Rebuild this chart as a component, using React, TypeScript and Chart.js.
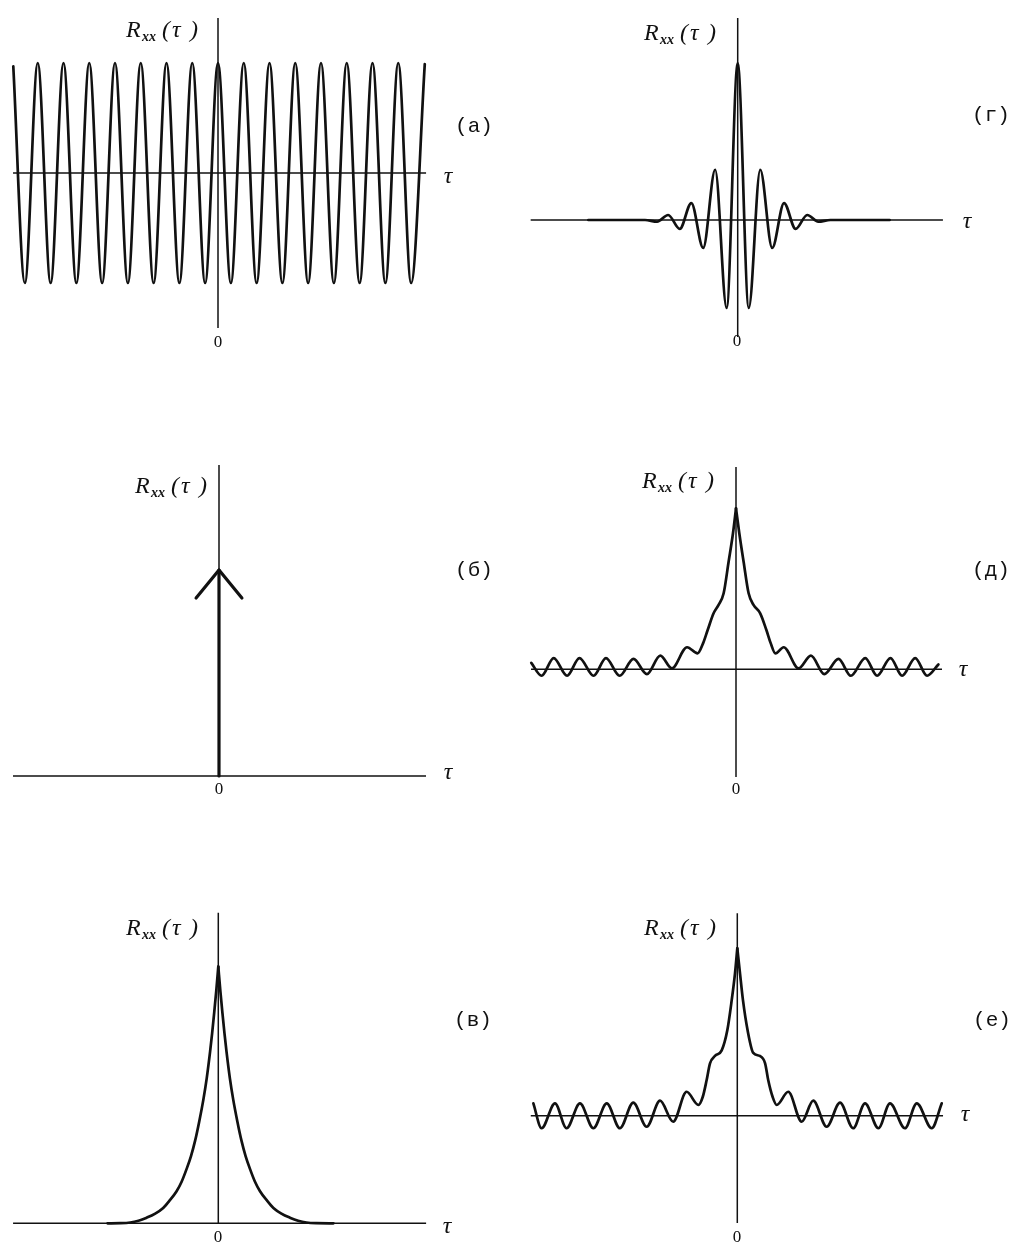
import React, { useEffect, useRef } from "react";
import { Chart, registerables } from "chart.js";

Chart.register(...registerables);

// ---------------- DATA (τ in common units, R normalised to its peak) ----------------
// (а) periodic: cosine extrema
const aTau = [-7.95, -7.5, -7, -6.5, -6, -5.5, -5, -4.5, -4, -3.5, -3, -2.5, -2, -1.5, -1, -0.5, 0, 0.5, 1, 1.5, 2, 2.5, 3, 3.5, 4, 4.5, 5, 5.5, 6, 6.5, 7, 7.5, 8.03];
const aR = [0.97, -1, 1, -1, 1, -1, 1, -1, 1, -1, 1, -1, 1, -1, 1, -1, 1, -1, 1, -1, 1, -1, 1, -1, 1, -1, 1, -1, 1, -1, 1, -1, 0.99];

// (б) white noise: delta impulse (stem + arrow head)
const bStemTau = [0, 0];
const bStemR = [0, 1];
const bHeadTau = [-0.89, 0, 0.89];
const bHeadR = [0.864, 1, 0.864];

// (в) exponential decay
const vTau = [-4.3, -3.8, -3.42, -3.1, -2.78, -2.45, -2.14, -1.88, -1.62, -1.42, -1.23, -1.06, -0.9, -0.74, -0.58, -0.45, -0.32, -0.24, -0.16, -0.08, 0, 0.08, 0.16, 0.24, 0.32, 0.45, 0.58, 0.74, 0.9, 1.06, 1.23, 1.42, 1.62, 1.88, 2.14, 2.45, 2.78, 3.1, 3.42, 3.8, 4.47];
const vR = [0, 0.0005, 0.003, 0.01, 0.022, 0.038, 0.06, 0.09, 0.125, 0.163, 0.212, 0.262, 0.322, 0.397, 0.482, 0.565, 0.668, 0.74, 0.82, 0.905, 1, 0.905, 0.82, 0.74, 0.668, 0.565, 0.482, 0.397, 0.322, 0.262, 0.212, 0.163, 0.125, 0.09, 0.06, 0.038, 0.022, 0.01, 0.003, 0.0005, 0];

// (г) damped oscillation
const gTau = [-5.8, -4.5, -3.6, -3.13, -2.7, -2.25, -1.8, -1.34, -0.875, -0.43, 0, 0.43, 0.875, 1.34, 1.8, 2.25, 2.7, 3.13, 3.6, 4.5, 5.9];
const gR = [0, 0, 0, -0.011, 0.032, -0.057, 0.108, -0.178, 0.32, -0.56, 1, -0.56, 0.32, -0.178, 0.108, -0.057, 0.032, -0.011, 0, 0, 0];

// (д) noise + weak periodic component
const dTau = [-7.95, -7.55, -7.08, -6.56, -6.08, -5.53, -5.05, -4.52, -3.98, -3.46, -2.94, -2.49, -1.9, -1.49, -1.28, -1.1, -0.87, -0.676, -0.48, -0.287, -0.117, 0, 0.128, 0.295, 0.49, 0.68, 0.94, 1.18, 1.35, 1.53, 1.85, 2.43, 2.91, 3.43, 3.98, 4.46, 5.02, 5.48, 6.0, 6.45, 6.96, 7.42, 7.86];
const dR = [0.04, -0.04, 0.07, -0.04, 0.07, -0.04, 0.07, -0.04, 0.065, -0.03, 0.085, 0.006, 0.137, 0.099, 0.161, 0.244, 0.348, 0.4, 0.472, 0.668, 0.845, 1, 0.845, 0.668, 0.472, 0.4, 0.348, 0.244, 0.161, 0.099, 0.137, 0.006, 0.085, -0.03, 0.065, -0.04, 0.07, -0.04, 0.07, -0.04, 0.07, -0.04, 0.03];

// (е) noise + stronger periodic component
const eTau = [-7.92, -7.6, -7.08, -6.63, -6.11, -5.59, -5.07, -4.56, -4.04, -3.52, -3.0, -2.49, -1.97, -1.51, -1.34, -1.19, -1.06, -0.866, -0.606, -0.388, -0.217, -0.089, 0, 0.105, 0.22, 0.4, 0.62, 0.88, 1.08, 1.2, 1.37, 1.53, 1.98, 2.5, 2.95, 3.47, 3.99, 4.5, 4.96, 5.48, 5.93, 6.51, 6.97, 7.55, 7.94];
const eR = [0.074, -0.075, 0.074, -0.075, 0.074, -0.075, 0.074, -0.075, 0.078, -0.066, 0.09, -0.036, 0.143, 0.064, 0.113, 0.213, 0.313, 0.357, 0.39, 0.51, 0.69, 0.85, 1, 0.85, 0.69, 0.51, 0.375, 0.357, 0.313, 0.213, 0.113, 0.064, 0.143, -0.036, 0.09, -0.066, 0.078, -0.075, 0.074, -0.075, 0.074, -0.075, 0.074, -0.075, 0.074];

// axis extents (data units)
const aXAxis = [-7.96, 8.08];
const aYAxis = [-1.41, 1.41];
const bXAxis = [-8.0, 8.04];
const bYAxis = [0, 1.51];
const vXAxis = [-7.97, 8.07];
const vYAxis = [0, 1.21];
const gXAxis = [-8.04, 7.97];
const gYAxis = [-0.745, 1.287];
const dXAxis = [-7.96, 8.0];
const dYAxis = [-0.669, 1.257];
const eXAxis = [-8.02, 7.99];
const eYAxis = [-0.641, 1.21];

const panelLetters = ["(а)", "(б)", "(в)", "(г)", "(д)", "(е)"];
const zeroLabel = "0";
const tauLabel = "τ";

// ---------------- LAYOUT ----------------
const SX = 25.75; // px per τ unit
const INK = "#111";
const SERIF = '"Liberation Serif", "DejaVu Serif", serif';
const MONO = '"Liberation Mono", "DejaVu Sans Mono", monospace';
const CURVE_W = 2.7;
const AXIS_W = 1.5;

type Curve = { tau: number[]; r: number[]; width: number; smooth: boolean; cusp?: boolean };
type Cfg = {
  box: { l: number; t: number; w: number; h: number };
  ox: number;
  oy: number;
  sy: number;
  xAxis: number[];
  yAxis: number[];
  curves: Curve[];
  letter: string;
  zero: [number, number];
  rRight: number;
  rCy: number;
  tau: [number, number];
  letterPos: [number, number];
};

const panels: Cfg[] = [
  {
    box: { l: 0, t: 0, w: 510, h: 400 }, ox: 218, oy: 173, sy: 110,
    xAxis: aXAxis, yAxis: aYAxis,
    curves: [{ tau: aTau, r: aR, width: CURVE_W, smooth: true }],
    letter: panelLetters[0], zero: [218, 343], rRight: 202, rCy: 29, tau: [448, 177], letterPos: [474, 126],
  },
  {
    box: { l: 510, t: 0, w: 503, h: 400 }, ox: 737.7, oy: 220, sy: 157,
    xAxis: gXAxis, yAxis: gYAxis,
    curves: [{ tau: gTau, r: gR, width: CURVE_W, smooth: true }],
    letter: panelLetters[3], zero: [737, 342], rRight: 720, rCy: 32, tau: [967, 222], letterPos: [991, 115],
  },
  {
    box: { l: 0, t: 400, w: 510, h: 440 }, ox: 219, oy: 776, sy: 206,
    xAxis: bXAxis, yAxis: bYAxis,
    curves: [
      { tau: bStemTau, r: bStemR, width: 3.2, smooth: false },
      { tau: bHeadTau, r: bHeadR, width: 3.2, smooth: false },
    ],
    letter: panelLetters[1], zero: [219, 790], rRight: 211, rCy: 485, tau: [448, 773], letterPos: [474, 570],
  },
  {
    box: { l: 510, t: 400, w: 503, h: 440 }, ox: 736, oy: 669.3, sy: 161,
    xAxis: dXAxis, yAxis: dYAxis,
    curves: [{ tau: dTau, r: dR, width: CURVE_W, smooth: true, cusp: true }],
    letter: panelLetters[4], zero: [736, 790], rRight: 718, rCy: 480, tau: [963, 670], letterPos: [991, 570],
  },
  {
    box: { l: 0, t: 840, w: 510, h: 405 }, ox: 218.3, oy: 1223.3, sy: 256.6,
    xAxis: vXAxis, yAxis: vYAxis,
    curves: [{ tau: vTau, r: vR, width: CURVE_W, smooth: true, cusp: true }],
    letter: panelLetters[2], zero: [218, 1238], rRight: 202, rCy: 927, tau: [447, 1227], letterPos: [473, 1020],
  },
  {
    box: { l: 510, t: 840, w: 503, h: 405 }, ox: 737.3, oy: 1115.7, sy: 167.4,
    xAxis: eXAxis, yAxis: eYAxis,
    curves: [{ tau: eTau, r: eR, width: CURVE_W, smooth: true, cusp: true }],
    letter: panelLetters[5], zero: [737, 1238], rRight: 720, rCy: 927, tau: [965, 1115], letterPos: [992, 1020],
  },
];

const zip = (xs: number[], ys: number[]) => xs.map((x, i) => ({ x, y: ys[i] }));

function drawRLabel(ctx: CanvasRenderingContext2D, right: number, cy: number) {
  const base = cy + 8;
  const left = right - 76;
  const parts = [
    { t: "R", f: `italic 24px ${SERIF}`, dx: 0, dy: 0 },
    { t: "xx", f: `italic bold 14px ${SERIF}`, dx: 16, dy: 4 },
    { t: "(", f: `italic 24px ${SERIF}`, dx: 36, dy: 0 },
    { t: "τ", f: `italic 24px ${SERIF}`, dx: 46, dy: 0 },
    { t: ")", f: `italic 24px ${SERIF}`, dx: 64, dy: 0 },
  ];
  ctx.textAlign = "left";
  ctx.textBaseline = "alphabetic";
  for (const p of parts) {
    ctx.font = p.f;
    ctx.fillText(p.t, left + p.dx, base + p.dy);
  }
}

function curveDatasets(c: Curve) {
  const pts = zip(c.tau, c.r);
  const style = {
    borderColor: INK,
    borderWidth: c.width,
    pointRadius: 0,
    fill: false,
    tension: 0,
    cubicInterpolationMode: c.smooth ? "monotone" : "default",
    borderJoinStyle: "round",
    borderCapStyle: "round",
  };
  if (c.cusp) {
    // split at τ = 0 so the peak stays pointed
    const left = pts.filter((p) => p.x <= 0);
    const right = pts.filter((p) => p.x >= 0);
    return [
      { ...style, data: left },
      { ...style, data: right },
    ];
  }
  return [{ ...style, data: pts }];
}

function Panel({ cfg }: { cfg: Cfg }) {
  const ref = useRef<HTMLCanvasElement | null>(null);
  useEffect(() => {
    const canvas = ref.current;
    if (!canvas) return;
    const { box, ox, oy, sy } = cfg;
    const xmin = (box.l - ox) / SX;
    const xmax = (box.l + box.w - ox) / SX;
    const ymax = (oy - box.t) / sy;
    const ymin = (oy - (box.t + box.h)) / sy;

    const datasets: any[] = [
      {
        data: [{ x: cfg.xAxis[0], y: 0 }, { x: cfg.xAxis[1], y: 0 }],
        borderColor: INK, borderWidth: AXIS_W, tension: 0, pointRadius: 0,
      },
      {
        data: [{ x: 0, y: cfg.yAxis[0] }, { x: 0, y: cfg.yAxis[1] }],
        borderColor: INK, borderWidth: AXIS_W, tension: 0, pointRadius: 0,
      },
      ...cfg.curves.flatMap(curveDatasets),
    ];

    const labels = {
      id: "panelLabels",
      afterDraw(chart: any) {
        const ctx = chart.ctx as CanvasRenderingContext2D;
        ctx.save();
        ctx.fillStyle = INK;
        const L = box.l;
        const T = box.t;
        ctx.font = `17px ${SERIF}`;
        ctx.textAlign = "center";
        ctx.textBaseline = "middle";
        ctx.fillText(zeroLabel, cfg.zero[0] - L, cfg.zero[1] - T);
        ctx.font = `italic 24px ${SERIF}`;
        ctx.fillText(tauLabel, cfg.tau[0] - L, cfg.tau[1] - T);
        ctx.font = `21px ${MONO}`;
        ctx.fillText(cfg.letter, cfg.letterPos[0] - L, cfg.letterPos[1] - T);
        drawRLabel(ctx, cfg.rRight - L, cfg.rCy - T);
        ctx.restore();
      },
    };

    const chart = new Chart(canvas, {
      type: "line",
      data: { datasets },
      options: {
        responsive: false,
        maintainAspectRatio: false,
        animation: false,
        events: [],
        layout: { padding: 0 },
        plugins: { legend: { display: false }, tooltip: { enabled: false }, title: { display: false } },
        scales: {
          x: { type: "linear", display: false, min: xmin, max: xmax },
          y: { type: "linear", display: false, min: ymin, max: ymax },
        },
        elements: { point: { radius: 0 } },
      } as any,
      plugins: [labels],
    });
    return () => chart.destroy();
  }, [cfg]);

  return (
    <canvas
      ref={ref}
      width={cfg.box.w}
      height={cfg.box.h}
      style={{ position: "absolute", left: cfg.box.l, top: cfg.box.t, width: cfg.box.w, height: cfg.box.h, display: "block" }}
    />
  );
}

export default function App() {
  return (
    <div style={{ position: "absolute", left: 0, top: 0, width: 1013, height: 1245, background: "#ffffff", overflow: "hidden" }}>
      {panels.map((p, i) => (
        <Panel key={i} cfg={p} />
      ))}
    </div>
  );
}
